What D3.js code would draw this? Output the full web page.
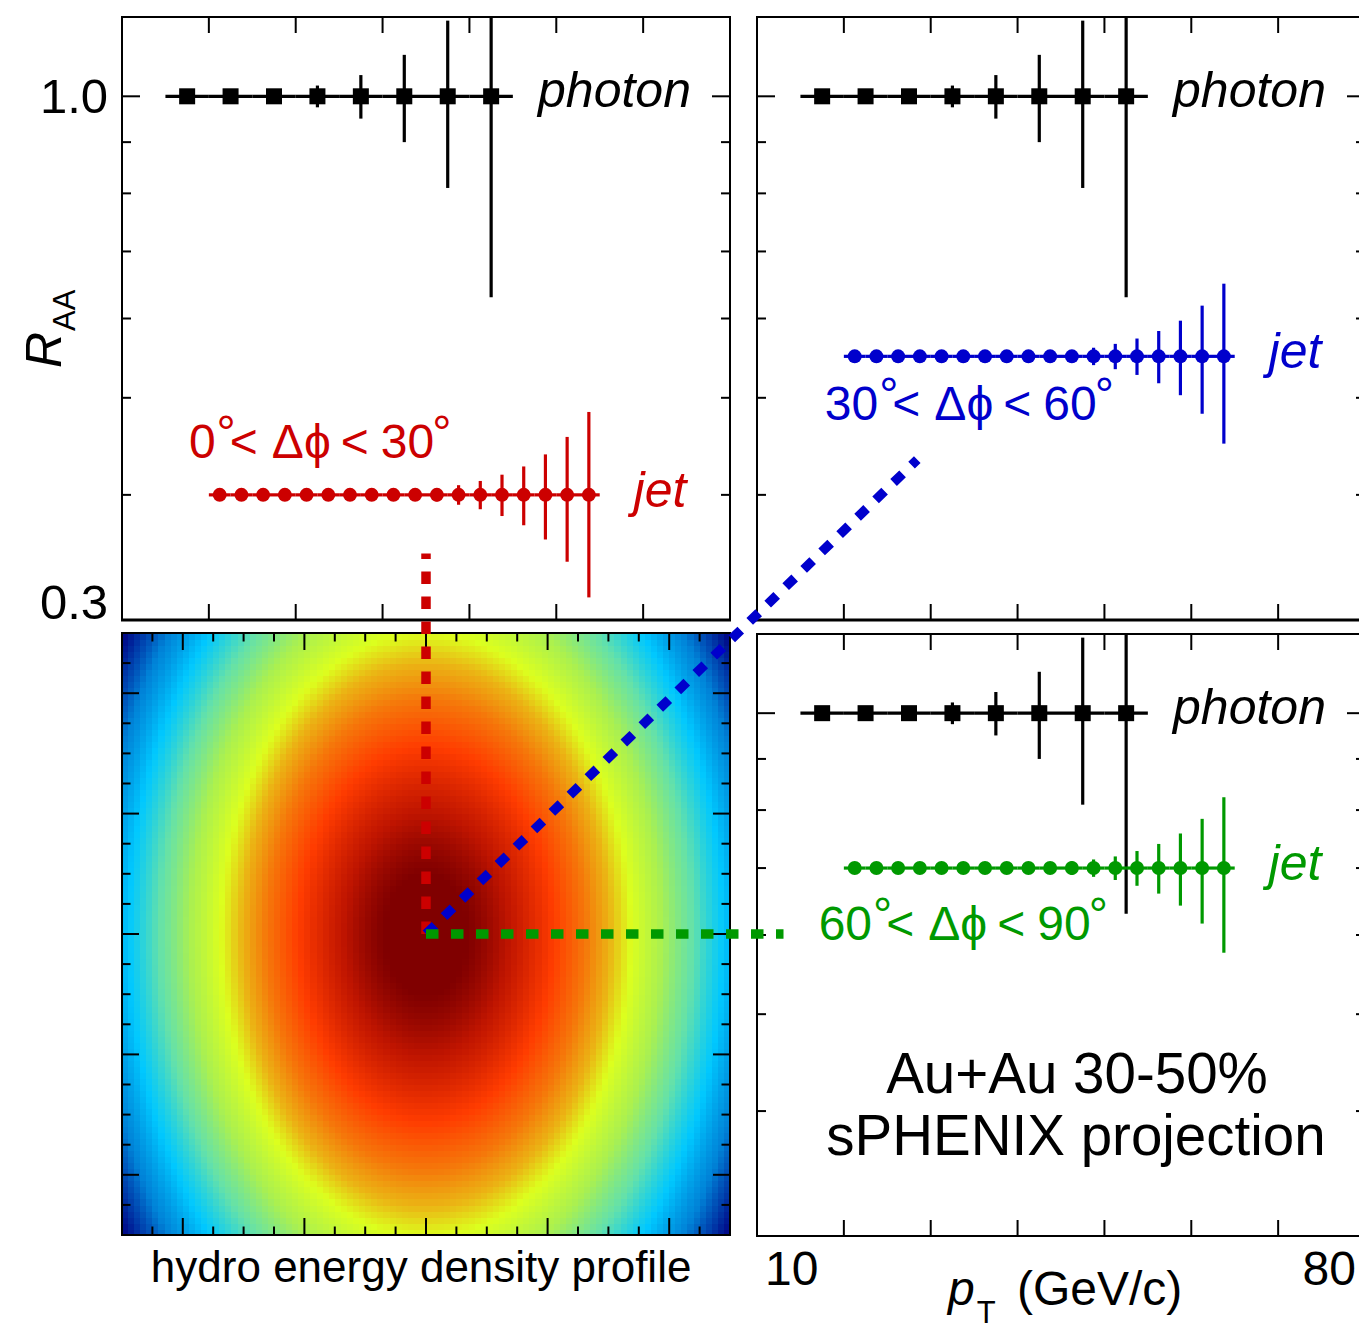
<!DOCTYPE html>
<html>
<head>
<meta charset="utf-8">
<script src="https://cdn.jsdelivr.net/npm/d3@7"></script>
<style>
body { margin: 0; background: #fff; }
text { font-family: "Liberation Sans", Arial, "DejaVu Sans", sans-serif; }
</style>
</head>
<body>
<div id="chart"></div>
<script>
// photon RAA (same in every panel)
var photonPt = [17.5, 22.5, 27.5, 32.5, 37.5, 42.5, 47.5, 52.5];
var photonRaa = [1.0, 1.0, 1.0, 1.0, 1.0, 1.0, 1.0, 1.0];
var photonErr = [0.005, 0.008, 0.014, 0.025, 0.05, 0.10, 0.19, 0.37];

// jet RAA, 2.5 GeV bins from 20 to 65
var jetPt = [21.25, 23.75, 26.25, 28.75, 31.25, 33.75, 36.25, 38.75, 41.25,
    43.75, 46.25, 48.75, 51.25, 53.75, 56.25, 58.75, 61.25, 63.75];
var jetRaaIn = [0.4, 0.4, 0.4, 0.4, 0.4, 0.4, 0.4, 0.4, 0.4, 0.4, 0.4, 0.4, 0.4, 0.4, 0.4, 0.4, 0.4, 0.4];
var jetErrIn = [0.002, 0.002, 0.002, 0.003, 0.003, 0.003, 0.004, 0.004, 0.005,
    0.005, 0.006, 0.009, 0.013, 0.019, 0.027, 0.039, 0.057, 0.084];
var jetRaaMid = [0.55, 0.55, 0.55, 0.55, 0.55, 0.55, 0.55, 0.55, 0.55, 0.55, 0.55, 0.55, 0.55, 0.55, 0.55, 0.55, 0.55, 0.55];
var jetErrMid = [0.003, 0.003, 0.003, 0.004, 0.004, 0.004, 0.005, 0.005, 0.006,
    0.007, 0.008, 0.011, 0.016, 0.023, 0.033, 0.047, 0.068, 0.100];
var jetRaaOut = [0.7, 0.7, 0.7, 0.7, 0.7, 0.7, 0.7, 0.7, 0.7, 0.7, 0.7, 0.7, 0.7, 0.7, 0.7, 0.7, 0.7, 0.7];
var jetErrOut = [0.004, 0.004, 0.004, 0.005, 0.005, 0.005, 0.006, 0.007, 0.008,
    0.009, 0.011, 0.014, 0.019, 0.028, 0.040, 0.058, 0.084, 0.124];

var xTicks = [20, 30, 40, 50, 60, 70];
var yMajorTicks = [1.0];
var yMinorTicks = [0.4, 0.5, 0.6, 0.7, 0.8, 0.9];

// hydro profile (fm): elliptic gaussian, colours by density
var profileRx = 8.43, profileRy = 12.54;
var heatMajorTicks = [-10, -5, 0, 5, 10];
var densityStops = [0.041, 0.056, 0.077, 0.122, 0.185, 0.266, 0.368, 0.445, 0.544, 0.68, 0.852, 0.96];
var paletteColors = ["rgb(0,0,130)", "rgb(0,60,170)", "rgb(0,130,215)", "rgb(0,200,255)",
    "rgb(100,225,170)", "rgb(170,240,80)", "rgb(220,255,30)", "rgb(235,180,20)",
    "rgb(245,120,10)", "rgb(255,60,0)", "rgb(190,20,0)", "rgb(128,0,0)"];

// dashed directions from the centre (fm), end points
var dirLines = [
    { color: "#cc0000", x2: 0, y2: 15.8 },
    { color: "#0000cc", x2: 20.2, y2: 19.7 },
    { color: "#009900", x2: 14.7, y2: 0 }
];

var width = 1359, height = 1329;
var svg = d3.select("#chart").append("svg").attr("width", width).attr("height", height);

var xLeft = d3.scaleLinear().domain([10, 80]).range([122, 730]);
var xRight = d3.scaleLinear().domain([10, 80]).range([757, 1365]);
var yTop = d3.scaleLog().domain([0.3, 1.2]).range([620, 17]);
var yBottom = d3.scaleLog().domain([0.3, 1.2]).range([1236, 634]);
var hx = d3.scaleLinear().domain([-12.5, 12.5]).range([122, 730]);
var hy = d3.scaleLinear().domain([-12.5, 12.5]).range([1235, 633]);

var defs = svg.append("defs");

function frame(g, x0, x1, y0, y1, bottomWidth) {
    g.append("rect").attr("x", x0).attr("y", y0).attr("width", x1 - x0).attr("height", y1 - y0)
        .attr("fill", "none").attr("stroke", "#000").attr("stroke-width", 2);
    g.append("line").attr("x1", x0 - 1).attr("x2", x1 + 1).attr("y1", y1).attr("y2", y1)
        .attr("stroke", "#000").attr("stroke-width", bottomWidth);
}

function dataPanel(id, xs, ys, jetRaa, jetErr, jetColor) {
    var x0 = xs.range()[0], x1 = xs.range()[1];
    var y0 = ys.range()[1], y1 = ys.range()[0];
    var g = svg.append("g");

    defs.append("clipPath").attr("id", "clip-" + id)
        .append("rect").attr("x", x0).attr("y", y0).attr("width", x1 - x0).attr("height", y1 - y0);

    // ticks
    var tk = g.append("g").attr("stroke", "#000").attr("stroke-width", 2);
    xTicks.forEach(function (t) {
        tk.append("line").attr("x1", xs(t)).attr("x2", xs(t)).attr("y1", y0).attr("y2", y0 + 16);
        tk.append("line").attr("x1", xs(t)).attr("x2", xs(t)).attr("y1", y1).attr("y2", y1 - 16);
    });
    yMajorTicks.concat(yMinorTicks).forEach(function (t) {
        var len = yMajorTicks.indexOf(t) >= 0 ? 18 : 9;
        tk.append("line").attr("x1", x0).attr("x2", x0 + len).attr("y1", ys(t)).attr("y2", ys(t));
        tk.append("line").attr("x1", x1).attr("x2", x1 - len).attr("y1", ys(t)).attr("y2", ys(t));
    });

    var pl = g.append("g").attr("clip-path", "url(#clip-" + id + ")");

    // photon
    var ph = pl.append("g").attr("stroke", "#000").attr("stroke-width", 3.2);
    photonPt.forEach(function (pt, i) {
        ph.append("line").attr("x1", xs(pt - 2.5)).attr("x2", xs(pt + 2.5))
            .attr("y1", ys(photonRaa[i])).attr("y2", ys(photonRaa[i]));
        ph.append("line").attr("x1", xs(pt)).attr("x2", xs(pt))
            .attr("y1", ys(photonRaa[i] + photonErr[i])).attr("y2", ys(photonRaa[i] - photonErr[i]));
    });
    pl.append("g").selectAll("rect").data(photonPt).join("rect")
        .attr("x", d => xs(d) - 8).attr("y", (d, i) => ys(photonRaa[i]) - 8)
        .attr("width", 16).attr("height", 16).attr("fill", "#000");

    // jet
    var jt = pl.append("g").attr("stroke", jetColor).attr("stroke-width", 3.2);
    jetPt.forEach(function (pt, i) {
        jt.append("line").attr("x1", xs(pt - 1.25)).attr("x2", xs(pt + 1.25))
            .attr("y1", ys(jetRaa[i])).attr("y2", ys(jetRaa[i]));
        jt.append("line").attr("x1", xs(pt)).attr("x2", xs(pt))
            .attr("y1", ys(jetRaa[i] + jetErr[i])).attr("y2", ys(jetRaa[i] - jetErr[i]));
    });
    pl.append("g").selectAll("circle").data(jetPt).join("circle")
        .attr("cx", d => xs(d)).attr("cy", (d, i) => ys(jetRaa[i]))
        .attr("r", 7).attr("fill", jetColor);

    frame(g, x0, x1, y0, y1, id == "bottom" ? 2 : 3);

    // labels
    g.append("text").attr("x", xs(57.9)).attr("y", ys(1.0) + 11)
        .attr("font-size", 50).attr("font-style", "italic").text("photon");
    g.append("text").attr("x", xs(68.9)).attr("y", ys(jetRaa[0]) + 12)
        .attr("font-size", 50).attr("font-style", "italic").attr("fill", jetColor).text("jet");
    return g;
}

function angleLabel(g, x, y, color, lo, hi) {
    var t = g.append("text").attr("x", x).attr("y", y).attr("fill", color).attr("font-size", 48);
    t.append("tspan").text(lo);
    t.append("tspan").attr("dy", -9).attr("dx", 1).text("°");
    t.append("tspan").attr("dy", 9).attr("dx", -6).text("<");
    t.append("tspan").attr("dx", 14).text("Δϕ");
    t.append("tspan").attr("dx", 10).text("<");
    t.append("tspan").attr("dx", 12).text(hi);
    t.append("tspan").attr("dy", -9).attr("dx", -2).text("°");
}

// heatmap
var heatBins = d3.range(-12.375, 12.5, 0.25);
var color = d3.scaleLinear().domain(densityStops).range(paletteColors).clamp(true);
var cells = [];
heatBins.forEach(function (gx) {
    heatBins.forEach(function (gy) {
        cells.push({ x: gx, y: gy, e: Math.exp(-(gx * gx / (profileRx * profileRx) + gy * gy / (profileRy * profileRy))) });
    });
});
var hm = svg.append("g");
hm.append("g").attr("shape-rendering", "crispEdges").selectAll("rect").data(cells).join("rect")
    .attr("x", d => hx(d.x - 0.125)).attr("y", d => hy(d.y + 0.125))
    .attr("width", hx(0.25) - hx(0) + 0.6).attr("height", hy(0) - hy(0.25) + 0.6)
    .attr("fill", d => color(d.e));

var htk = hm.append("g").attr("stroke", "#000").attr("stroke-width", 2);
d3.range(-11.25, 12.5, 1.25).forEach(function (t) {
    var len = heatMajorTicks.indexOf(Math.round(t * 100) / 100) >= 0 ? 17 : 8.5;
    htk.append("line").attr("x1", hx(t)).attr("x2", hx(t)).attr("y1", 633).attr("y2", 633 + len);
    htk.append("line").attr("x1", hx(t)).attr("x2", hx(t)).attr("y1", 1235).attr("y2", 1235 - len);
    htk.append("line").attr("x1", 122).attr("x2", 122 + len).attr("y1", hy(t)).attr("y2", hy(t));
    htk.append("line").attr("x1", 730).attr("x2", 730 - len).attr("y1", hy(t)).attr("y2", hy(t));
});
hm.append("rect").attr("x", 122).attr("y", 633).attr("width", 608).attr("height", 602)
    .attr("fill", "none").attr("stroke", "#000").attr("stroke-width", 2);

var tl = dataPanel("tl", xLeft, yTop, jetRaaIn, jetErrIn, "#cc0000");
var tr = dataPanel("tr", xRight, yTop, jetRaaMid, jetErrMid, "#0000cc");
var br = dataPanel("bottom", xRight, yBottom, jetRaaOut, jetErrOut, "#009900");

angleLabel(tl, xLeft(17.7), yTop(0.4) - 37, "#cc0000", "0", "30");
angleLabel(tr, xRight(17.8), yTop(0.55) + 64, "#0000cc", "30", "60");
angleLabel(br, xRight(17.1), yBottom(0.7) + 72, "#009900", "60", "90");

// dashed direction lines
dirLines.forEach(function (d) {
    svg.append("line").attr("x1", hx(0)).attr("y1", hy(0)).attr("x2", hx(d.x2)).attr("y2", hy(d.y2))
        .attr("stroke", d.color).attr("stroke-width", 9.5).attr("stroke-dasharray", "12.5,12.5");
});

// axis labels
svg.append("text").attr("x", 108).attr("y", yTop(1.0) + 17).attr("text-anchor", "end")
    .attr("font-size", 49).text("1.0");
svg.append("text").attr("x", 108).attr("y", yTop(0.3) - 1).attr("text-anchor", "end")
    .attr("font-size", 49).text("0.3");
var ra = svg.append("text").attr("transform", "translate(61,368) rotate(-90)");
ra.append("tspan").attr("font-size", 50).attr("font-style", "italic").text("R");
ra.append("tspan").attr("font-size", 31).attr("dy", 14).attr("dx", 1).text("AA");

svg.append("text").attr("x", hx(-0.2)).attr("y", 1282).attr("text-anchor", "middle")
    .attr("font-size", 44).text("hydro energy density profile");

svg.append("text").attr("x", xRight(10) + 8).attr("y", 1285).attr("font-size", 48).text("10");
svg.append("text").attr("x", xRight(80) - 9).attr("y", 1285).attr("text-anchor", "end")
    .attr("font-size", 48).text("80");
var pt = svg.append("text").attr("x", 948).attr("y", 1305).attr("font-size", 48);
pt.append("tspan").attr("font-style", "italic").text("p");
pt.append("tspan").attr("font-size", 31).attr("dy", 18).attr("dx", 2).text("T");
pt.append("tspan").attr("dy", -18).attr("dx", 8).text(" (GeV/c)");

svg.append("text").attr("x", 1077).attr("y", 1093).attr("text-anchor", "middle")
    .attr("font-size", 56.5).text("Au+Au 30-50%");
svg.append("text").attr("x", 1076).attr("y", 1155).attr("text-anchor", "middle")
    .attr("font-size", 56.5).text("sPHENIX projection");
</script>
</body>
</html>
